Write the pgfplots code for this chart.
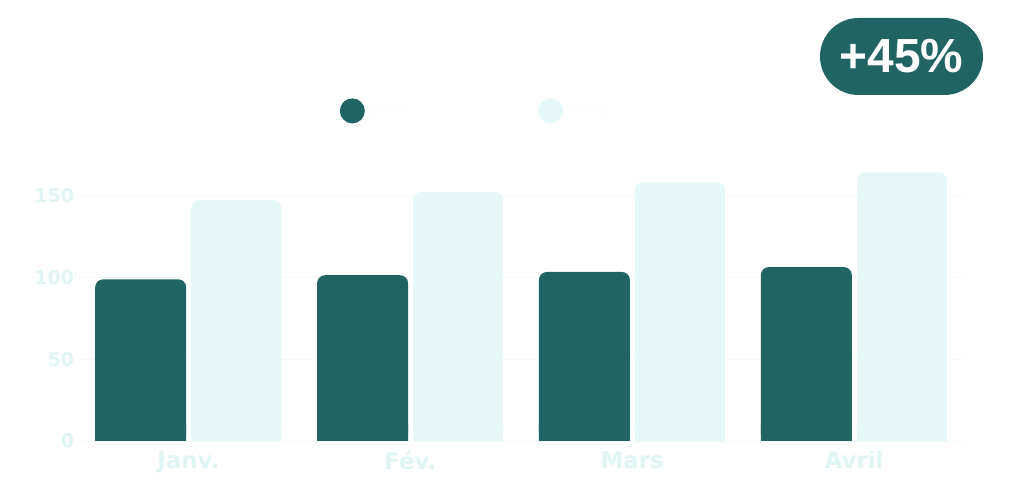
\documentclass[border=0pt]{standalone}
\usepackage{fontspec}
\setmainfont{DejaVu Sans}
\newfontfamily\badgefont{Liberation Sans}
\usepackage{pgfplots}
\pgfplotsset{compat=1.18}

\definecolor{darkteal}{HTML}{216464}
\definecolor{paleteal}{HTML}{E6F7F7}
\definecolor{labelcol}{HTML}{E1F4F4}
\definecolor{gridcol}{HTML}{F5FBFB}

\begin{document}
\begin{tikzpicture}
  \path[use as bounding box] (0,0) rectangle (1023bp,498bp);
  \begin{axis}[
      at={(77.5bp,57bp)}, anchor=south west,
      scale only axis,
      width=887.5bp, height=285.8bp,
      ybar,
      xmin=-0.5, xmax=3.5,
      ymin=0, ymax=175,
      xtick={0,1,2,3},
      xticklabels={Janv., Fév., Mars, Avril},
      ytick={0,50,100,150},
      axis line style={draw=none},
      major tick length=0pt,
      ymajorgrids,
      major grid style={draw=gridcol, line width=0.8pt},
      /pgf/number format/assume math mode=true,
      tick label style={text=labelcol},
      yticklabel style={font=\fontsize{19}{19}\selectfont\bfseries},
      xticklabel style={font=\fontsize{23}{23}\selectfont\bfseries, yshift=-7bp},
      legend columns=2,
      legend style={
        draw=none, fill=none,
        at={(axis description cs:0.292,1.155)}, anchor=west,
        font=\fontsize{16}{16}\selectfont\bfseries,
        text=white!92!labelcol,
        /tikz/every even column/.append style={column sep=125bp},
      },
      legend cell align=left,
    ]
    % dark series
    \addplot[fill=darkteal, draw=none, bar width=91bp, bar shift=-47.75bp,
      rounded corners=8bp,
      legend image code/.code={\fill[darkteal] (0bp,0bp) circle (12.5bp);}]
      coordinates {(0,99) (1,101.5) (2,103.5) (3,106.5)};
    % light series
    \addplot[fill=paleteal, draw=none, bar width=90bp, bar shift=47.75bp,
      rounded corners=8bp,
      legend image code/.code={\fill[paleteal] (0bp,0bp) circle (12.5bp);}]
      coordinates {(0,147.5) (1,152.5) (2,158.5) (3,164.5)};
    % square bottoms
    \addplot[fill=darkteal, draw=none, bar width=91bp, bar shift=-47.75bp, forget plot]
      coordinates {(0,10) (1,10) (2,10) (3,10)};
    \addplot[fill=paleteal, draw=none, bar width=90bp, bar shift=47.75bp, forget plot]
      coordinates {(0,10) (1,10) (2,10) (3,10)};
    \legend{2023, 2024}
  \end{axis}
  \node[fill=darkteal, rounded corners=38.5bp, minimum width=163bp,
    minimum height=77bp, text=white, inner sep=0pt,
    font=\badgefont\fontsize{48}{48}\selectfont\bfseries]
    at (901.5bp,441.5bp) {+45\%};
\end{tikzpicture}
\end{document}
